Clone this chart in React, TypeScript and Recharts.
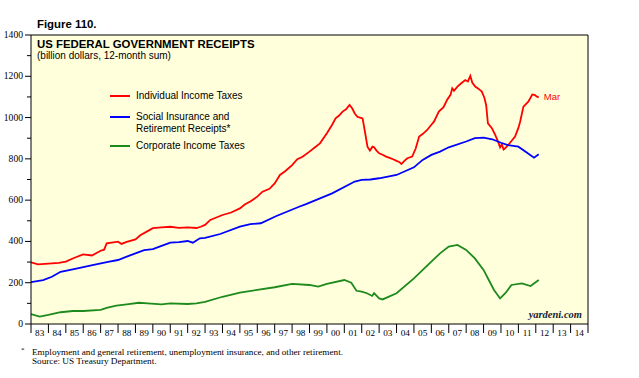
import React from 'react';
import {
  LineChart,
  Line,
  XAxis,
  YAxis,
  CartesianGrid,
  ReferenceLine,
  Legend
} from 'recharts';

// Individual income taxes, billion dollars, 12-month sum
const indivYears = [
  1983.0, 1983.4, 1984.0, 1984.6, 1985.0, 1985.5, 1986.0, 1986.5, 1987.0, 1987.2,
  1987.35, 1988.0, 1988.2, 1988.5, 1989.0, 1989.3, 1989.7, 1990.0, 1990.5, 1991.0,
  1991.5, 1992.0, 1992.5, 1992.75, 1993.0, 1993.3, 1994.0, 1994.5, 1995.0, 1995.3,
  1995.6, 1996.0, 1996.3, 1996.7, 1997.0, 1997.3, 1997.6, 1998.0, 1998.3, 1998.6,
  1999.0, 1999.3, 1999.6, 2000.0, 2000.3, 2000.5, 2000.7, 2000.9, 2001.1, 2001.3,
  2001.45, 2001.6, 2001.75, 2001.9, 2002.05, 2002.2, 2002.33, 2002.47, 2002.62, 2002.71,
  2002.85, 2003.0, 2003.2, 2003.4, 2003.6, 2003.8, 2004.0, 2004.15, 2004.28, 2004.45,
  2004.62, 2004.9, 2005.1, 2005.3, 2005.5, 2005.76, 2006.0, 2006.15, 2006.43, 2006.7,
  2006.9, 2007.1, 2007.2, 2007.3, 2007.5, 2007.7, 2007.95, 2008.1, 2008.24, 2008.35,
  2008.52, 2008.7, 2008.9, 2009.05, 2009.15, 2009.25, 2009.48, 2009.67, 2009.85, 2009.95,
  2010.05, 2010.15, 2010.24, 2010.4, 2010.52, 2010.81, 2011.0, 2011.1, 2011.29, 2011.57,
  2011.8, 2011.95, 2012.05, 2012.17
];
const indivValues = [
  299, 289, 292, 296, 302, 321, 337, 332, 355, 360,
  391, 399, 388, 398, 410, 431, 450, 464, 468, 471,
  466, 468, 465, 471, 480, 504, 528, 540, 560, 580,
  593, 617, 641, 655, 681, 722, 740, 770, 798, 810,
  835, 855, 875, 924, 965, 996, 1010, 1029, 1040, 1061,
  1045, 1020, 1004, 1000, 996, 924, 859, 840, 859, 856,
  840, 827, 820, 811, 805, 798, 790, 785, 775, 790,
  803, 811, 850, 908, 920, 940, 965, 980, 1029, 1050,
  1085, 1110, 1142, 1130, 1150, 1165, 1182, 1175, 1202, 1170,
  1150, 1140, 1126, 1095, 1060, 972, 948, 916, 880, 856,
  870, 845, 851, 866, 878, 908, 950, 980, 1053, 1077,
  1112, 1109, 1102, 1098
];

// Social insurance and retirement receipts
const socialYears = [
  1983.0, 1983.7, 1984.2, 1984.7, 1985.4, 1986.0, 1986.6, 1987.5, 1988.0, 1988.5,
  1989.0, 1989.5, 1990.0, 1990.5, 1991.0, 1991.5, 1992.0, 1992.3, 1992.7, 1993.0,
  1993.87, 1995.0, 1995.6, 1996.2, 1997.1, 1998.4, 1998.8, 2000.3, 2001.6, 2002.0,
  2002.5, 2003.0, 2004.0, 2005.0, 2005.5, 2006.0, 2006.5, 2007.0, 2008.0, 2008.5,
  2009.0, 2009.5, 2010.0, 2010.4, 2011.0, 2011.5, 2011.9, 2012.17
];
const socialValues = [
  203, 213, 229, 253, 265, 275, 286, 302, 310, 326,
  342, 358, 363, 378, 394, 397, 402, 394, 415, 417,
  436, 472, 484, 488, 523, 568, 581, 633, 690, 698,
  700, 706, 722, 759, 795, 819, 835, 856, 884, 900,
  903, 895, 878, 867, 859, 830, 806, 822
];

// Corporate income taxes
const corpYears = [
  1983.0, 1983.5, 1984.0, 1984.7, 1985.4, 1986.0, 1987.0, 1987.4, 1987.9, 1988.5,
  1989.2, 1989.7, 1990.5, 1991.0, 1992.0, 1992.5, 1993.0, 1994.0, 1995.0, 1996.0,
  1997.0, 1998.0, 1999.0, 1999.5, 2000.0, 2001.0, 2001.4, 2001.7, 2002.0, 2002.3,
  2002.6, 2002.71, 2003.0, 2003.2, 2004.0, 2005.0, 2006.0, 2006.5, 2007.0, 2007.5,
  2008.0, 2008.5, 2009.0, 2009.3, 2009.6, 2009.95, 2010.25, 2010.6, 2011.2, 2011.7,
  2012.17
];
const corpValues = [
  48, 36, 44, 57, 63, 63, 68, 79, 89, 95,
  103, 100, 95, 100, 97, 100, 107, 132, 152, 165,
  178, 194, 189, 181, 194, 213, 200, 161, 157, 149,
  136, 149, 124, 119, 149, 221, 302, 342, 375, 383,
  359, 318, 262, 213, 165, 124, 149, 189, 197, 184,
  213
];

const seriesNames = [
  'Individual Income Taxes',
  'Social Insurance and\nRetirement Receipts*',
  'Corporate Income Taxes'
];
const seriesColors = ['#ff0000', '#0000ff', '#1c8a1c'];
const yearLabels = [
  '83', '84', '85', '86', '87', '88', '89', '90', '91', '92', '93', '94', '95', '96', '97', '98',
  '99', '00', '01', '02', '03', '04', '05', '06', '07', '08', '09', '10', '11', '12', '13', '14'
];
const firstYear = 1983;
const valueTicks = [0, 100, 200, 300, 400, 500, 600, 700, 800, 900, 1000, 1100, 1200, 1300, 1400];
const endLabel = 'Mar';

const toPoints = (ts: number[], vs: number[]) => ts.map((t, i) => ({ t, v: vs[i] }));
const seriesData = [
  toPoints(indivYears, indivValues),
  toPoints(socialYears, socialValues),
  toPoints(corpYears, corpValues)
];

// year boundaries get a tick mark, mid-years get the label
const xTicks = yearLabels
  .flatMap((_, i) => [firstYear + i, firstYear + i + 0.5])
  .concat(firstYear + yearLabels.length);

const serif = '"Liberation Serif", "Times New Roman", serif';
const sans = '"Liberation Sans", Arial, sans-serif';

const XTick = (props: any) => {
  const { x, y, payload } = props;
  const v = payload.value;
  if (Number.isInteger(v)) {
    return <line x1={x} x2={x} y1={y} y2={y + 9} stroke="#000" strokeWidth={1} />;
  }
  const label = yearLabels[Math.floor(v) - firstYear];
  return (
    <text x={x} y={y + 12} textAnchor="middle" fontFamily={serif} fontSize={9.2} fill="#000">
      {label}
    </text>
  );
};

const LeftTick = (props: any) => {
  const { x, y, payload } = props;
  const major = payload.value % 200 === 0;
  return (
    <g>
      <line x1={x - (major ? 6 : 4)} x2={x} y1={y} y2={y} stroke="#000" />
      {major && (
        <text x={x - 8} y={y + 3} textAnchor="end" fontFamily={serif} fontSize={9.6} fill="#000">
          {payload.value}
        </text>
      )}
    </g>
  );
};

const RightTick = (props: any) => {
  const { x, y, payload } = props;
  const major = payload.value % 200 === 0;
  return (
    <g>
      <line x1={x} x2={x + (major ? 6 : 4)} y1={y} y2={y} stroke="#000" />
      {major && (
        <text x={x + 9} y={y + 3} textAnchor="start" fontFamily={serif} fontSize={9.6} fill="#000">
          {payload.value}
        </text>
      )}
    </g>
  );
};

const legendTops = [0, 21, 50];

const renderLegend = () => (
  <div style={{ position: 'relative', width: 150, height: 70, fontFamily: sans, fontSize: 10, color: '#000' }}>
    {seriesNames.map((name, i) => (
      <div key={name} style={{ position: 'absolute', left: 0, top: legendTops[i], display: 'flex' }}>
        <div style={{ width: 20, height: 2, background: seriesColors[i], marginTop: 5, marginRight: 6 }} />
        <div style={{ whiteSpace: 'pre-line', lineHeight: '11.7px' }}>{name}</div>
      </div>
    ))}
  </div>
);

const renderEndLabel = (props: any) => {
  const { x, y, index } = props;
  if (index !== indivYears.length - 1) return null;
  return (
    <text x={x + 5} y={y + 3} fontFamily={sans} fontSize={9.5} fill={seriesColors[0]}>
      {endLabel}
    </text>
  );
};

const App: React.FC = () => {
  return (
    <div style={{ position: 'absolute', left: 0, top: 0, width: 639, height: 378, background: '#fff' }}>
      <LineChart width={639} height={378} margin={{ top: 35, right: 50, bottom: 53, left: 30 }}>
        <CartesianGrid fill="#ffffdc" horizontal={false} vertical={false} />
        <XAxis
          type="number"
          dataKey="t"
          domain={[firstYear, firstYear + yearLabels.length]}
          ticks={xTicks}
          interval={0}
          height={1}
          tickSize={0}
          tickMargin={0}
          tickLine={false}
          tick={<XTick />}
          axisLine={{ stroke: '#000' }}
          allowDataOverflow
        />
        <YAxis
          domain={[0, 1400]}
          ticks={valueTicks}
          interval={0}
          width={1}
          tickSize={0}
          tickMargin={0}
          tickLine={false}
          tick={<LeftTick />}
          axisLine={{ stroke: '#000' }}
        />
        <YAxis
          yAxisId="right"
          orientation="right"
          domain={[0, 1400]}
          ticks={valueTicks}
          interval={0}
          width={1}
          tickSize={0}
          tickMargin={0}
          tickLine={false}
          tick={<RightTick />}
          axisLine={{ stroke: '#000' }}
        />
        <ReferenceLine y={1400} stroke="#000" ifOverflow="visible" />
        <Legend
          layout="vertical"
          align="center"
          verticalAlign="middle"
          content={renderLegend}
          wrapperStyle={{ left: 110, top: 90, width: 150, height: 70 }}
        />
        {seriesData.map((data, i) => (
          <Line
            key={seriesNames[i]}
            data={data}
            dataKey="v"
            name={seriesNames[i]}
            stroke={seriesColors[i]}
            strokeWidth={1.8}
            dot={false}
            type="linear"
            isAnimationActive={false}
            label={i === 0 ? renderEndLabel : undefined}
          />
        ))}
      </LineChart>
      <svg
        width={639}
        height={378}
        style={{ position: 'absolute', left: 0, top: 0, pointerEvents: 'none' }}
      >
        <text x={37} y={28} fontFamily={sans} fontWeight="bold" fontSize={11.4} fill="#000">
          Figure 110.
        </text>
        <text x={37} y={48} fontFamily={sans} fontWeight="bold" fontSize={11.4} fill="#000">
          US FEDERAL GOVERNMENT RECEIPTS
        </text>
        <text x={37} y={59} fontFamily={sans} fontSize={10} fill="#000">
          (billion dollars, 12-month sum)
        </text>
        <text x={582} y={318} textAnchor="end" fontFamily={serif} fontStyle="italic" fontWeight="bold" fontSize={10.5} fill="#1a1a33">
          yardeni.com
        </text>
        <text x={21} y={352} fontFamily={serif} fontSize={7} fill="#000">*</text>
        <text x={32} y={355} fontFamily={serif} fontSize={9.2} fill="#000">
          Employment and general retirement, unemployment insurance, and other retirement.
        </text>
        <text x={32} y={364} fontFamily={serif} fontSize={9.2} fill="#000">
          Source: US Treasury Department.
        </text>
      </svg>
    </div>
  );
};

export default App;
